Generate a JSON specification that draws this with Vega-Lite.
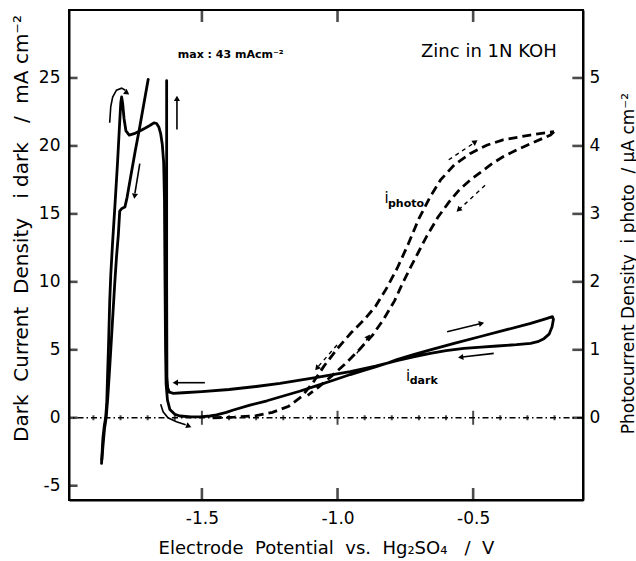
{
  "$schema": "https://vega.github.io/schema/vega-lite/v6.json",
  "width": 514,
  "height": 490,
  "autosize": {"type": "none"},
  "padding": {"left": 69, "top": 10, "right": 53, "bottom": 61},
  "background": "white",
  "config": {
    "font": "DejaVu Sans",
    "view": {"stroke": "black", "strokeWidth": 2},
    "axis": {
      "domainColor": "black", "domainWidth": 2,
      "ticks": false,
      "labelColor": "black", "titleColor": "black",
      "labelFont": "DejaVu Sans", "titleFont": "DejaVu Sans",
      "labelFontSize": 17, "titleFontWeight": "normal", "grid": false
    }
  },
  "datasets": {
    "dark": [
      {"seg": 1, "n": 1, "E": -1.870, "i": -3.36}, {"seg": 1, "n": 2, "E": -1.868, "i": -2.6},
      {"seg": 1, "n": 3, "E": -1.865, "i": -1.5}, {"seg": 1, "n": 4, "E": -1.860, "i": -0.6},
      {"seg": 1, "n": 5, "E": -1.855, "i": 0.0}, {"seg": 1, "n": 6, "E": -1.851, "i": 1.0},
      {"seg": 1, "n": 7, "E": -1.848, "i": 3.0}, {"seg": 1, "n": 8, "E": -1.844, "i": 5.5},
      {"seg": 1, "n": 9, "E": -1.840, "i": 8.5}, {"seg": 1, "n": 10, "E": -1.836, "i": 10.5},
      {"seg": 1, "n": 11, "E": -1.829, "i": 13.0}, {"seg": 1, "n": 12, "E": -1.821, "i": 15.5},
      {"seg": 1, "n": 13, "E": -1.811, "i": 18.8}, {"seg": 1, "n": 14, "E": -1.803, "i": 21.8},
      {"seg": 1, "n": 15, "E": -1.799, "i": 23.2}, {"seg": 1, "n": 16, "E": -1.796, "i": 23.6},
      {"seg": 1, "n": 17, "E": -1.792, "i": 23.1}, {"seg": 1, "n": 18, "E": -1.787, "i": 22.0},
      {"seg": 1, "n": 19, "E": -1.780, "i": 21.1}, {"seg": 1, "n": 20, "E": -1.768, "i": 20.8},
      {"seg": 1, "n": 21, "E": -1.750, "i": 20.9}, {"seg": 1, "n": 22, "E": -1.729, "i": 21.1},
      {"seg": 1, "n": 23, "E": -1.710, "i": 21.3}, {"seg": 1, "n": 24, "E": -1.692, "i": 21.5},
      {"seg": 1, "n": 25, "E": -1.677, "i": 21.7}, {"seg": 1, "n": 26, "E": -1.667, "i": 21.65},
      {"seg": 1, "n": 27, "E": -1.659, "i": 21.4}, {"seg": 1, "n": 28, "E": -1.652, "i": 20.9},
      {"seg": 1, "n": 29, "E": -1.646, "i": 20.1}, {"seg": 1, "n": 30, "E": -1.641, "i": 18.8},
      {"seg": 1, "n": 31, "E": -1.638, "i": 16.0}, {"seg": 1, "n": 32, "E": -1.636, "i": 10.0},
      {"seg": 1, "n": 33, "E": -1.634, "i": 5.0}, {"seg": 1, "n": 34, "E": -1.632, "i": 2.5},
      {"seg": 1, "n": 35, "E": -1.627, "i": 1.3}, {"seg": 1, "n": 36, "E": -1.618, "i": 0.6},
      {"seg": 1, "n": 37, "E": -1.600, "i": 0.25}, {"seg": 1, "n": 38, "E": -1.581, "i": 0.13},
      {"seg": 1, "n": 39, "E": -1.540, "i": 0.06}, {"seg": 1, "n": 40, "E": -1.507, "i": 0.07},
      {"seg": 1, "n": 41, "E": -1.470, "i": 0.13}, {"seg": 1, "n": 42, "E": -1.446, "i": 0.22},
      {"seg": 1, "n": 43, "E": -1.410, "i": 0.40}, {"seg": 1, "n": 44, "E": -1.384, "i": 0.57},
      {"seg": 1, "n": 45, "E": -1.323, "i": 0.93}, {"seg": 1, "n": 46, "E": -1.260, "i": 1.25},
      {"seg": 1, "n": 47, "E": -1.200, "i": 1.60}, {"seg": 1, "n": 48, "E": -1.140, "i": 1.95},
      {"seg": 1, "n": 49, "E": -1.076, "i": 2.36}, {"seg": 1, "n": 50, "E": -1.010, "i": 2.80},
      {"seg": 1, "n": 51, "E": -0.953, "i": 3.18}, {"seg": 1, "n": 52, "E": -0.900, "i": 3.50},
      {"seg": 1, "n": 53, "E": -0.860, "i": 3.74}, {"seg": 1, "n": 54, "E": -0.820, "i": 3.99},
      {"seg": 1, "n": 55, "E": -0.781, "i": 4.28}, {"seg": 1, "n": 56, "E": -0.720, "i": 4.64},
      {"seg": 1, "n": 57, "E": -0.658, "i": 4.99}, {"seg": 1, "n": 58, "E": -0.570, "i": 5.48},
      {"seg": 1, "n": 59, "E": -0.473, "i": 5.98}, {"seg": 1, "n": 60, "E": -0.380, "i": 6.46},
      {"seg": 1, "n": 61, "E": -0.288, "i": 6.95}, {"seg": 1, "n": 62, "E": -0.230, "i": 7.30},
      {"seg": 1, "n": 63, "E": -0.208, "i": 7.44}, {"seg": 1, "n": 64, "E": -0.204, "i": 7.25},
      {"seg": 1, "n": 65, "E": -0.209, "i": 6.7}, {"seg": 1, "n": 66, "E": -0.220, "i": 6.15},
      {"seg": 1, "n": 67, "E": -0.239, "i": 5.82}, {"seg": 1, "n": 68, "E": -0.262, "i": 5.60},
      {"seg": 1, "n": 69, "E": -0.288, "i": 5.48}, {"seg": 1, "n": 70, "E": -0.340, "i": 5.38},
      {"seg": 1, "n": 71, "E": -0.411, "i": 5.28}, {"seg": 1, "n": 72, "E": -0.470, "i": 5.20},
      {"seg": 1, "n": 73, "E": -0.534, "i": 5.10}, {"seg": 1, "n": 74, "E": -0.600, "i": 4.94},
      {"seg": 1, "n": 75, "E": -0.658, "i": 4.74}, {"seg": 1, "n": 76, "E": -0.720, "i": 4.48},
      {"seg": 1, "n": 77, "E": -0.781, "i": 4.20}, {"seg": 1, "n": 78, "E": -0.820, "i": 4.00},
      {"seg": 1, "n": 79, "E": -0.860, "i": 3.80}, {"seg": 1, "n": 80, "E": -0.953, "i": 3.39},
      {"seg": 1, "n": 81, "E": -1.076, "i": 2.97}, {"seg": 1, "n": 82, "E": -1.212, "i": 2.53},
      {"seg": 1, "n": 83, "E": -1.300, "i": 2.30}, {"seg": 1, "n": 84, "E": -1.400, "i": 2.08},
      {"seg": 1, "n": 85, "E": -1.500, "i": 1.93}, {"seg": 1, "n": 86, "E": -1.570, "i": 1.84},
      {"seg": 1, "n": 87, "E": -1.605, "i": 1.80}, {"seg": 1, "n": 88, "E": -1.620, "i": 1.88},
      {"seg": 1, "n": 89, "E": -1.626, "i": 2.2}, {"seg": 1, "n": 90, "E": -1.629, "i": 3.0},
      {"seg": 1, "n": 91, "E": -1.630, "i": 10.0}, {"seg": 1, "n": 92, "E": -1.630, "i": 24.8},
      {"seg": 2, "n": 1, "E": -1.698, "i": 24.9}, {"seg": 2, "n": 2, "E": -1.715, "i": 23.0},
      {"seg": 2, "n": 3, "E": -1.730, "i": 21.3}, {"seg": 2, "n": 4, "E": -1.746, "i": 19.6},
      {"seg": 2, "n": 5, "E": -1.762, "i": 17.8}, {"seg": 2, "n": 6, "E": -1.776, "i": 16.2},
      {"seg": 2, "n": 7, "E": -1.784, "i": 15.5}, {"seg": 2, "n": 8, "E": -1.795, "i": 15.4},
      {"seg": 2, "n": 9, "E": -1.803, "i": 15.2}, {"seg": 2, "n": 10, "E": -1.808, "i": 13.5},
      {"seg": 2, "n": 11, "E": -1.815, "i": 11.8}, {"seg": 2, "n": 12, "E": -1.821, "i": 10.0},
      {"seg": 2, "n": 13, "E": -1.830, "i": 7.0}, {"seg": 2, "n": 14, "E": -1.839, "i": 4.0},
      {"seg": 2, "n": 15, "E": -1.847, "i": 1.5}, {"seg": 2, "n": 16, "E": -1.853, "i": 0.0},
      {"seg": 2, "n": 17, "E": -1.859, "i": -0.8}, {"seg": 2, "n": 18, "E": -1.864, "i": -1.9},
      {"seg": 2, "n": 19, "E": -1.869, "i": -3.1}
    ],
    "photo": [
      {"seg": 1, "n": 1, "E": -1.46, "i": 0.00}, {"seg": 1, "n": 2, "E": -1.38, "i": 0.01},
      {"seg": 1, "n": 3, "E": -1.30, "i": 0.03}, {"seg": 1, "n": 4, "E": -1.24, "i": 0.08},
      {"seg": 1, "n": 5, "E": -1.18, "i": 0.17}, {"seg": 1, "n": 6, "E": -1.13, "i": 0.32},
      {"seg": 1, "n": 7, "E": -1.09, "i": 0.52}, {"seg": 1, "n": 8, "E": -1.05, "i": 0.76},
      {"seg": 1, "n": 9, "E": -1.00, "i": 1.02}, {"seg": 1, "n": 10, "E": -0.95, "i": 1.25},
      {"seg": 1, "n": 11, "E": -0.90, "i": 1.45}, {"seg": 1, "n": 12, "E": -0.86, "i": 1.64},
      {"seg": 1, "n": 13, "E": -0.82, "i": 1.90}, {"seg": 1, "n": 14, "E": -0.78, "i": 2.20},
      {"seg": 1, "n": 15, "E": -0.74, "i": 2.55}, {"seg": 1, "n": 16, "E": -0.70, "i": 2.93},
      {"seg": 1, "n": 17, "E": -0.66, "i": 3.24}, {"seg": 1, "n": 18, "E": -0.62, "i": 3.50},
      {"seg": 1, "n": 19, "E": -0.57, "i": 3.72}, {"seg": 1, "n": 20, "E": -0.51, "i": 3.89},
      {"seg": 1, "n": 21, "E": -0.45, "i": 4.01}, {"seg": 1, "n": 22, "E": -0.39, "i": 4.09},
      {"seg": 1, "n": 23, "E": -0.29, "i": 4.16}, {"seg": 1, "n": 24, "E": -0.22, "i": 4.20},
      {"seg": 1, "n": 25, "E": -0.202, "i": 4.21},
      {"seg": 2, "n": 1, "E": -0.202, "i": 4.21}, {"seg": 2, "n": 2, "E": -0.215, "i": 4.16},
      {"seg": 2, "n": 3, "E": -0.25, "i": 4.10}, {"seg": 2, "n": 4, "E": -0.29, "i": 4.03},
      {"seg": 2, "n": 5, "E": -0.34, "i": 3.94}, {"seg": 2, "n": 6, "E": -0.39, "i": 3.84},
      {"seg": 2, "n": 7, "E": -0.43, "i": 3.74}, {"seg": 2, "n": 8, "E": -0.47, "i": 3.62},
      {"seg": 2, "n": 9, "E": -0.51, "i": 3.50}, {"seg": 2, "n": 10, "E": -0.55, "i": 3.36},
      {"seg": 2, "n": 11, "E": -0.59, "i": 3.17}, {"seg": 2, "n": 12, "E": -0.63, "i": 2.95},
      {"seg": 2, "n": 13, "E": -0.67, "i": 2.68}, {"seg": 2, "n": 14, "E": -0.70, "i": 2.45},
      {"seg": 2, "n": 15, "E": -0.73, "i": 2.22}, {"seg": 2, "n": 16, "E": -0.76, "i": 1.98},
      {"seg": 2, "n": 17, "E": -0.79, "i": 1.72}, {"seg": 2, "n": 18, "E": -0.83, "i": 1.45},
      {"seg": 2, "n": 19, "E": -0.87, "i": 1.22}, {"seg": 2, "n": 20, "E": -0.92, "i": 1.00},
      {"seg": 2, "n": 21, "E": -0.97, "i": 0.80}, {"seg": 2, "n": 22, "E": -1.02, "i": 0.62},
      {"seg": 2, "n": 23, "E": -1.07, "i": 0.45}, {"seg": 2, "n": 24, "E": -1.11, "i": 0.33}
    ],
    "arrows": [
      {"id": "a1", "kind": "dark", "n": 1, "E": -1.592, "i": 21.2}, {"id": "a1", "kind": "dark", "n": 2, "E": -1.592, "i": 23.3},
      {"id": "a2", "kind": "dark", "n": 1, "E": -1.729, "i": 18.7}, {"id": "a2", "kind": "dark", "n": 2, "E": -1.747, "i": 16.5},
      {"id": "a3", "kind": "dark", "n": 1, "E": -1.840, "i": 21.7}, {"id": "a3", "kind": "dark", "n": 2, "E": -1.836, "i": 22.9},
      {"id": "a3", "kind": "dark", "n": 3, "E": -1.829, "i": 23.6}, {"id": "a3", "kind": "dark", "n": 4, "E": -1.815, "i": 24.1},
      {"id": "a3", "kind": "dark", "n": 5, "E": -1.796, "i": 24.25}, {"id": "a3", "kind": "dark", "n": 6, "E": -1.782, "i": 24.1},
      {"id": "a4", "kind": "dark", "n": 1, "E": -1.652, "i": 1.0}, {"id": "a4", "kind": "dark", "n": 2, "E": -1.643, "i": 0.44},
      {"id": "a4", "kind": "dark", "n": 3, "E": -1.625, "i": 0.0}, {"id": "a4", "kind": "dark", "n": 4, "E": -1.594, "i": -0.29},
      {"id": "a4", "kind": "dark", "n": 5, "E": -1.560, "i": -0.52},
      {"id": "a5", "kind": "dark", "n": 1, "E": -1.489, "i": 2.58}, {"id": "a5", "kind": "dark", "n": 2, "E": -1.590, "i": 2.58},
      {"id": "a6", "kind": "dark", "n": 1, "E": -0.596, "i": 6.33}, {"id": "a6", "kind": "dark", "n": 2, "E": -0.475, "i": 6.91},
      {"id": "a7", "kind": "dark", "n": 1, "E": -0.424, "i": 4.74}, {"id": "a7", "kind": "dark", "n": 2, "E": -0.540, "i": 4.47},
      {"id": "a8", "kind": "photo", "n": 1, "E": -0.590, "i": 18.98}, {"id": "a8", "kind": "photo", "n": 2, "E": -0.498, "i": 20.2},
      {"id": "a9", "kind": "photo", "n": 1, "E": -0.456, "i": 17.1}, {"id": "a9", "kind": "photo", "n": 2, "E": -0.548, "i": 15.4},
      {"id": "a10", "kind": "photo", "n": 1, "E": -1.002, "i": 5.35}, {"id": "a10", "kind": "photo", "n": 2, "E": -1.072, "i": 3.75},
      {"id": "a11", "kind": "photo", "n": 1, "E": -0.929, "i": 4.74}, {"id": "a11", "kind": "photo", "n": 2, "E": -0.889, "i": 5.85}
    ],
    "heads": [
      {"id": "a1", "E": -1.592, "i": 23.5, "heading": 0},
      {"id": "a2", "E": -1.748, "i": 16.3, "heading": 188},
      {"id": "a3", "E": -1.776, "i": 23.9, "heading": 124},
      {"id": "a4", "E": -1.548, "i": -0.62, "heading": 111},
      {"id": "a5", "E": -1.598, "i": 2.58, "heading": 270},
      {"id": "a6", "E": -0.469, "i": 6.94, "heading": 77},
      {"id": "a7", "E": -0.546, "i": 4.45, "heading": 263},
      {"id": "a8", "E": -0.492, "i": 20.3, "heading": 56},
      {"id": "a9", "E": -0.554, "i": 15.3, "heading": 227},
      {"id": "a10", "E": -1.076, "i": 3.64, "heading": 220},
      {"id": "a11", "E": -0.886, "i": 5.96, "heading": 35}
    ],
    "minorTicks": [
      {"E": -1.9}, {"E": -1.8}, {"E": -1.7}, {"E": -1.6}, {"E": -1.4}, {"E": -1.3},
      {"E": -1.2}, {"E": -1.1}, {"E": -0.9}, {"E": -0.8}, {"E": -0.7}, {"E": -0.6},
      {"E": -0.4}, {"E": -0.3}, {"E": -0.2}
    ],
    "majorTicks": [{"E": -1.5}, {"E": -1.0}, {"E": -0.5}],
    "yTicks": [{"v": -5}, {"v": 0}, {"v": 5}, {"v": 10}, {"v": 15}, {"v": 20}, {"v": 25}],
    "notes": [
      {"kind": "title", "E": -0.192, "i": 26.9, "text": "Zinc in 1N KOH"},
      {"kind": "max", "E": -1.589, "i": 26.7, "text": "max : 43 mAcm⁻²"},
      {"kind": "main", "E": -0.827, "i": 16.2, "text": "i"},
      {"kind": "sub", "E": -0.814, "i": 15.75, "text": "photo"},
      {"kind": "main", "E": -0.748, "i": 3.05, "text": "i"},
      {"kind": "sub", "E": -0.734, "i": 2.7, "text": "dark"}
    ]
  },
  "layer": [
    {
      "layer": [
        {
          "data": {"name": "dark"},
          "mark": {"type": "line", "color": "black", "strokeWidth": 2.8, "strokeJoin": "round", "strokeCap": "round"},
          "encoding": {
            "x": {
              "field": "E", "type": "quantitative",
              "scale": {"domain": [-1.99, -0.095], "nice": false, "zero": false},
              "axis": {
                "orient": "bottom", "values": [-1.5, -1.0, -0.5], "format": ".1f",
                "labelExpr": "replace(datum.label, '−', '-')",
                "labelPadding": 10, "labelFontSize": 17,
                "title": "Electrode\u00a0 Potential\u00a0 vs.\u00a0 Hg₂SO₄\u00a0 \u00a0/\u00a0 V",
                "titleFontSize": 18, "titlePadding": 13
              }
            },
            "y": {
              "field": "i", "type": "quantitative",
              "scale": {"domain": [-6.05, 30], "nice": false, "zero": false},
              "axis": {
                "orient": "left", "values": [-5, 0, 5, 10, 15, 20, 25],
                "labelExpr": "replace(datum.label, '−', '-')",
                "labelPadding": 9, "labelFontSize": 17,
                "title": "Dark\u00a0 Current\u00a0 Density\u00a0 \u00a0i dark\u00a0 \u00a0/\u00a0 mA\u00a0cm⁻²",
                "titleFontSize": 20, "titleAngle": 270, "titleAlign": "center",
                "titleBaseline": "alphabetic", "titleX": -42, "titleY": 218
              }
            },
            "detail": {"field": "seg", "type": "nominal"},
            "order": {"field": "n", "type": "quantitative"}
          }
        },
        {
          "data": {"values": [{"level": 0}]},
          "mark": {"type": "rule", "color": "black", "strokeWidth": 1.3, "strokeDash": [6, 3, 1.5, 3]},
          "encoding": {"y": {"field": "level", "type": "quantitative"}}
        },
        {
          "data": {"name": "minorTicks"},
          "mark": {"type": "tick", "orient": "vertical", "color": "black", "size": 5, "thickness": 2},
          "encoding": {
            "x": {"field": "E", "type": "quantitative"},
            "y": {"datum": 0, "type": "quantitative"}
          }
        },
        {
          "data": {"name": "majorTicks"},
          "mark": {"type": "tick", "orient": "vertical", "color": "black", "size": 14, "thickness": 2},
          "encoding": {
            "x": {"field": "E", "type": "quantitative"},
            "y": {"datum": 0, "type": "quantitative"}
          }
        },
        {
          "data": {"name": "majorTicks"},
          "mark": {"type": "tick", "orient": "vertical", "color": "black", "size": 12, "thickness": 2.6},
          "encoding": {
            "x": {"field": "E", "type": "quantitative"},
            "y": {"datum": 29.56, "type": "quantitative"}
          }
        },
        {
          "data": {"name": "majorTicks"},
          "mark": {"type": "tick", "orient": "vertical", "color": "black", "size": 12, "thickness": 2.6},
          "encoding": {
            "x": {"field": "E", "type": "quantitative"},
            "y": {"datum": -5.61, "type": "quantitative"}
          }
        },
        {
          "data": {"name": "yTicks"},
          "mark": {"type": "tick", "orient": "horizontal", "color": "black", "size": 9, "thickness": 2.6},
          "encoding": {
            "y": {"field": "v", "type": "quantitative"},
            "x": {"datum": -1.975, "type": "quantitative"}
          }
        },
        {
          "data": {"name": "yTicks"},
          "transform": [{"filter": "datum.v >= 0"}],
          "mark": {"type": "tick", "orient": "horizontal", "color": "black", "size": 11, "thickness": 2.6},
          "encoding": {
            "y": {"field": "v", "type": "quantitative"},
            "x": {"datum": -0.114, "type": "quantitative"}
          }
        },
        {
          "data": {"name": "arrows"},
          "transform": [{"filter": "datum.kind == 'dark'"}],
          "mark": {"type": "line", "color": "black", "strokeWidth": 1.6},
          "encoding": {
            "x": {"field": "E", "type": "quantitative"},
            "y": {"field": "i", "type": "quantitative"},
            "detail": {"field": "id", "type": "nominal"},
            "order": {"field": "n", "type": "quantitative"}
          }
        },
        {
          "data": {"name": "arrows"},
          "transform": [{"filter": "datum.kind == 'photo'"}],
          "mark": {"type": "line", "color": "black", "strokeWidth": 1.4, "strokeDash": [4, 4]},
          "encoding": {
            "x": {"field": "E", "type": "quantitative"},
            "y": {"field": "i", "type": "quantitative"},
            "detail": {"field": "id", "type": "nominal"},
            "order": {"field": "n", "type": "quantitative"}
          }
        },
        {
          "data": {"name": "heads"},
          "mark": {"type": "point", "shape": "triangle-up", "filled": true, "color": "black", "size": 38, "opacity": 1},
          "encoding": {
            "x": {"field": "E", "type": "quantitative"},
            "y": {"field": "i", "type": "quantitative"},
            "angle": {"field": "heading", "type": "quantitative", "scale": null}
          }
        },
        {
          "data": {"name": "notes"},
          "transform": [{"filter": "datum.kind == 'title'"}],
          "mark": {"type": "text", "align": "right", "baseline": "middle", "fontSize": 18, "color": "black"},
          "encoding": {
            "x": {"field": "E", "type": "quantitative"},
            "y": {"field": "i", "type": "quantitative"},
            "text": {"field": "text"}
          }
        },
        {
          "data": {"name": "notes"},
          "transform": [{"filter": "datum.kind == 'max'"}],
          "mark": {"type": "text", "align": "left", "baseline": "middle", "fontSize": 11, "fontWeight": "bold", "color": "black"},
          "encoding": {
            "x": {"field": "E", "type": "quantitative"},
            "y": {"field": "i", "type": "quantitative"},
            "text": {"field": "text"}
          }
        },
        {
          "data": {"name": "notes"},
          "transform": [{"filter": "datum.kind == 'main'"}],
          "mark": {"type": "text", "align": "left", "baseline": "middle", "fontSize": 15, "color": "black"},
          "encoding": {
            "x": {"field": "E", "type": "quantitative"},
            "y": {"field": "i", "type": "quantitative"},
            "text": {"field": "text"}
          }
        },
        {
          "data": {"name": "notes"},
          "transform": [{"filter": "datum.kind == 'sub'"}],
          "mark": {"type": "text", "align": "left", "baseline": "middle", "fontSize": 11, "fontWeight": "bold", "color": "black"},
          "encoding": {
            "x": {"field": "E", "type": "quantitative"},
            "y": {"field": "i", "type": "quantitative"},
            "text": {"field": "text"}
          }
        }
      ]
    },
    {
      "data": {"name": "photo"},
      "mark": {"type": "line", "color": "black", "strokeWidth": 2.8, "strokeDash": [9, 5]},
      "encoding": {
        "x": {"field": "E", "type": "quantitative"},
        "y": {
          "field": "i", "type": "quantitative",
          "scale": {"domain": [-1.21, 6], "nice": false, "zero": false},
          "axis": {
            "orient": "right", "values": [0, 1, 2, 3, 4, 5],
            "labelPadding": 6, "labelFontSize": 17,
            "title": "Photocurrent Density\u00a0 i photo\u00a0 / µA cm⁻²",
            "titleFontSize": 17, "titleAngle": 270, "titleAlign": "center",
            "titleBaseline": "alphabetic", "titleX": 50, "titleY": 253
          }
        },
        "detail": {"field": "seg", "type": "nominal"},
        "order": {"field": "n", "type": "quantitative"}
      }
    }
  ],
  "resolve": {"scale": {"y": "independent"}, "axis": {"y": "independent"}}
}
